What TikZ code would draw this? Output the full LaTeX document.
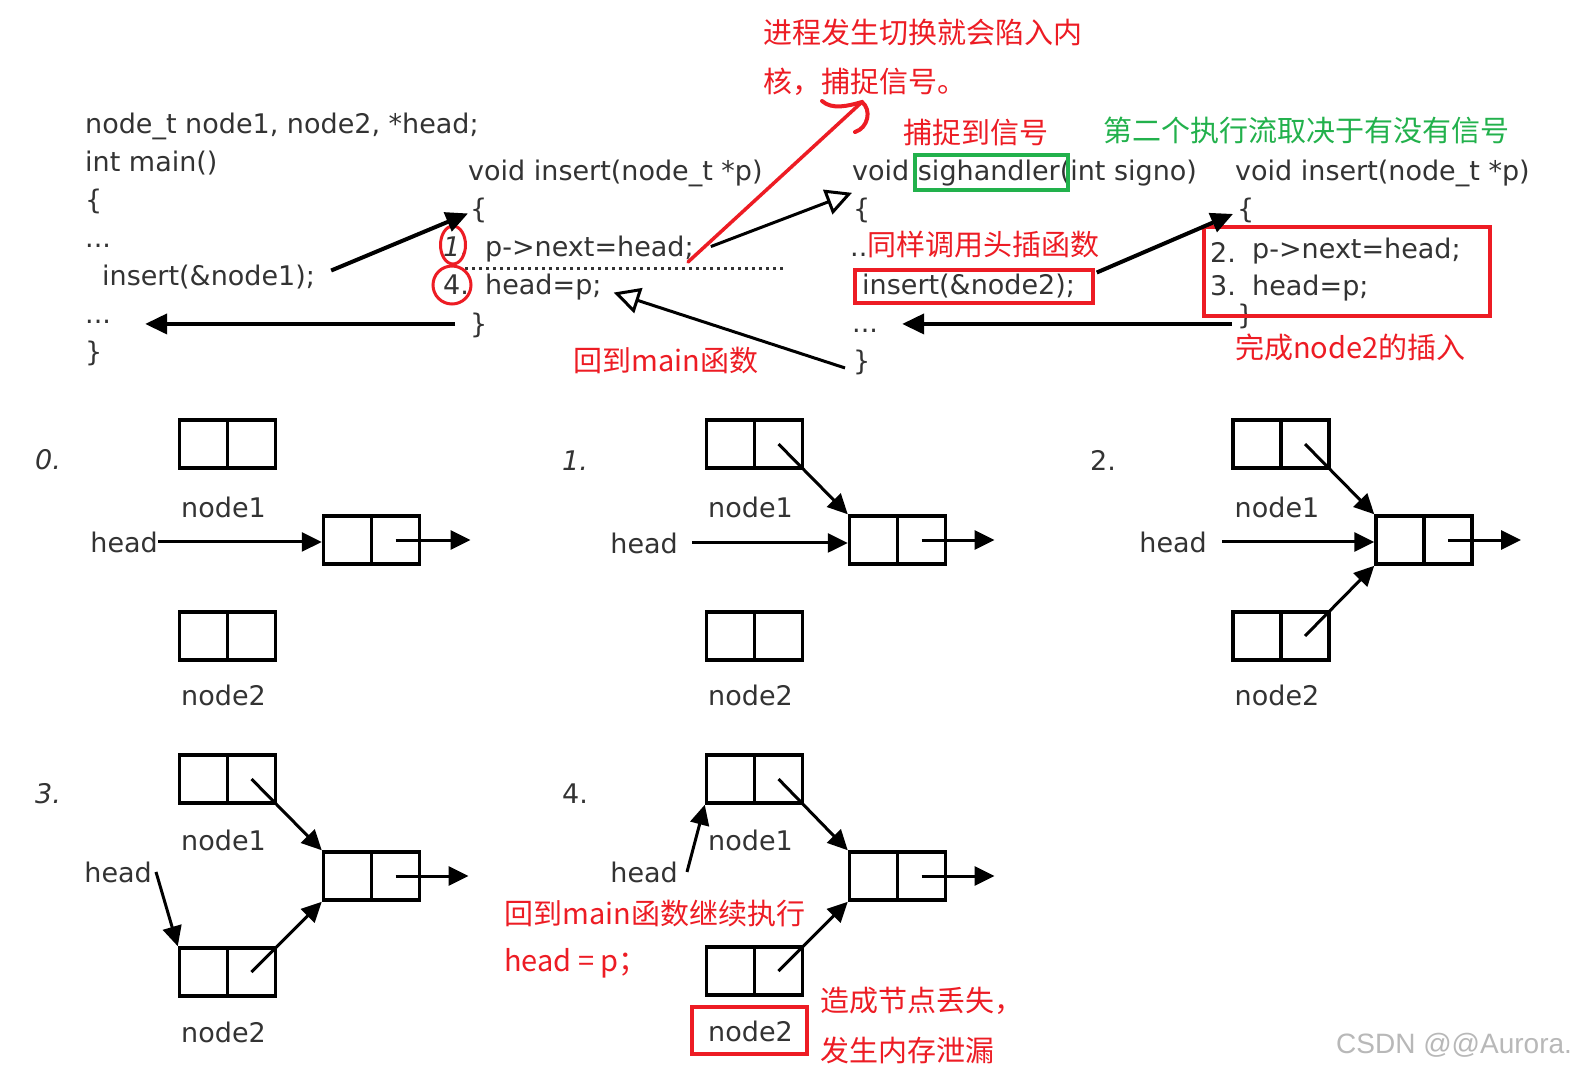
\documentclass[tikz,border=0pt]{standalone}
\usepackage{fontspec}
\setmainfont{DejaVu Sans}
\newfontfamily\cjk{Noto Sans CJK SC}
\newfontfamily\wmfont{Liberation Sans}
\usetikzlibrary{arrows.meta,shapes.geometric,calc}
\definecolor{redc}{HTML}{ED1C24}
\definecolor{greenc}{HTML}{22B14C}
\definecolor{codec}{HTML}{333333}
\begin{document}
\begin{tikzpicture}[x=1pt,y=-1pt,
  code/.style={font=\fontsize{27}{32}\selectfont, text=codec, inner sep=0pt, anchor=base west},
  lbl/.style={font=\fontsize{27}{32}\selectfont, text=codec, inner sep=0pt, anchor=base},
  stepit/.style={font=\itshape\fontsize{27}{32}\selectfont, text=codec, inner sep=0pt, anchor=base west},
  stepup/.style={font=\fontsize{27}{32}\selectfont, text=codec, inner sep=0pt, anchor=base west},
  note/.style={font=\cjk\fontsize{29}{34}\selectfont, text=redc, inner sep=0pt, anchor=west},
  cell/.style={draw=black, line width=3.5pt, minimum width=48pt, minimum height=48pt, inner sep=0pt},
  big/.style={-{Triangle[length=22pt,width=20pt]}, line width=4pt, draw=black},
  hollowarr/.style={-{Triangle[open,length=26pt,width=26pt]}, line width=3pt, draw=black},
  ptr/.style={-{Triangle[length=20pt,width=19pt]}, line width=3pt, draw=black},
  redbox/.style={draw=redc, line width=3.5pt, inner sep=0pt},
]
\fill[white] (0,0) rectangle (1581,1080);
\useasboundingbox (0,0) rectangle (1581,1080);

% ---------- main() ----------
\node[code] (m1) at (85,133) {node\_t node1, node2, *head;};
\node[code] (m2) at (85,171) {int main()};
\node[code] (m3) at (85,209) {\{};
\node[code] (m4) at (85,247) {...};
\node[code] (m5) at (102,285) {insert(\&node1);};
\node[code] (m6) at (85,323) {...};
\node[code] (m7) at (85,361) {\}};

% ---------- insert (first) ----------
\node[code] (i1) at (468,180) {void insert(node\_t *p)};
\node[code] (i2) at (470,218) {\{};
\node[code,font=\itshape\fontsize{27}{32}\selectfont] (i3n) at (443,256) {1.};
\node[code] (i3) at (485,256) {p->next=head;};
\node[code] (i4n) at (443,294) {4.};
\node[code] (i4) at (485,294) {head=p;};
\node[code] (i5) at (470,333) {\}};

% ---------- sighandler ----------
\node[code] (s1) at (852,180) {void sighandler(int signo)};
\node[code] (s2) at (853,218) {\{};
\node[code] (s3) at (850,256) {..};
\node[code] (s4) at (862,294) {insert(\&node2);};
\node[code] (s5) at (852,332) {...};
\node[code] (s6) at (853,370) {\}};

% ---------- insert (second) ----------
\node[code] (r1) at (1235,180) {void insert(node\_t *p)};
\node[code] (r2) at (1237,218) {\{};
\node[code] (r3n) at (1210,262) {2.};
\node[code] (r3) at (1252,258) {p->next=head;};
\node[code] (r4n) at (1210,295) {3.};
\node[code] (r4) at (1252,295) {head=p;};
\node[code] (r5) at (1237,324) {\}};

% dotted separator
\coordinate (dl) at (465,268);
\coordinate (dr) at (783,268);
\draw[codec, line width=3pt, dash pattern=on 3pt off 4pt] (dl) -- (dr);

% ---------- annotations ----------
\node[note] (n1) at (763,32) {进程发生切换就会陷入内};
\node[note] (n2) at (763,82) {核，捕捉信号。};
\node[note] (n3) at (903,133) {捕捉到信号};
\node[note, text=greenc] (n4) at (1103,130) {第二个执行流取决于有没有信号};
\node[note] (n5) at (867,245) {同样调用头插函数};
\node[note] (n6) at (573,360) {回到main函数};
\node[note] (n7) at (1235,347) {完成node2的插入};
\node[note] (n8) at (504,913) {回到main函数继续执行};
\node[note] (n9) at (504,963) {head = p；};
\node[note] (n10) at (820,1001) {造成节点丢失，};
\node[note] (n11) at (820,1050) {发生内存泄漏};
\node[font=\wmfont\fontsize{28}{32}\selectfont, text=black!28, anchor=west, inner sep=0pt] (wm) at (1336,1045) {CSDN @@Aurora.};

\node[draw=redc, line width=3pt, ellipse, minimum width=25pt, minimum height=38pt, inner sep=0pt] (c1) at (453,245) {};
\node[draw=redc, line width=3pt, circle, minimum size=38pt, inner sep=0pt] (c4) at (452,285) {};
\node[draw=greenc, line width=3.5pt, minimum width=153pt, minimum height=35pt, inner sep=0pt] (gb) at (991.5,172.5) {};
\node[redbox, minimum width=238pt, minimum height=33pt] (rbB) at (974,286.5) {};
\node[redbox, minimum width=286pt, minimum height=89pt] (rbC) at (1347,271.5) {};
\node[redbox, minimum width=115pt, minimum height=47pt] (rbD) at (749.5,1030.5) {};

% red hand-drawn arrow
\coordinate (ra) at (688,262);
\coordinate (rt) at (862,102);
\coordinate (rhl) at (822,101);
\coordinate (rhb) at (855,132);
\draw[redc, line width=3.5pt, line cap=round] (ra) -- (rt);
\draw[redc, line width=4pt, line cap=round] (rhl) .. controls (832,110) and (848,106) .. (rt) .. controls (872,110) and (868,128) .. (rhb);

% ---------- control-flow arrows ----------
\draw[big] ([xshift=16pt,yshift=6pt]m5.east) -- ([xshift=-2pt,yshift=-3.5pt]i2.west);
\coordinate (m6t) at ([xshift=34pt]m6.east);
\coordinate (i5s) at ([xshift=-15pt,yshift=1pt]i5.west);
\draw[big] (i5s) -- (m6t |- i5s);
\draw[hollowarr] ([xshift=17pt,yshift=2pt]i3.east) -- ([yshift=-7pt]s1.south west);
\draw[hollowarr] ([xshift=-8pt,yshift=-6pt]s6.west) -- ([xshift=12pt,yshift=-6pt]i4.east);
\draw[big] ([xshift=2pt,yshift=14pt]rbB.east) -- ([xshift=-4pt,yshift=-4pt]r2.west);
\coordinate (s5t) at ([xshift=24pt]s5.east);
\coordinate (r5s) at ([xshift=-5pt,yshift=-8pt]r5.west);
\draw[big] (r5s) -- (s5t |- r5s);

% ---------- panel 0 ----------
\node[stepit] (k0) at (35,469) {0.};
\node[cell] (a0L) at (203.5,444) {}; \node[cell] (a0R) at (251.5,444) {};
\node[cell] (b0L) at (203.5,636) {}; \node[cell] (b0R) at (251.5,636) {};
\node[cell] (t0L) at (347.5,540) {}; \node[cell] (t0R) at (395.5,540) {};
\node[lbl] (la0) at (223.5,517) {node1};
\node[lbl] (lb0) at (223.5,705) {node2};
\node[lbl, anchor=base east] (h0) at (158,552) {head};
\coordinate (e0) at ($(t0R.center)+(75,0)$);
\draw[ptr] (h0.east) -- (h0.east -| t0L.west);
\draw[ptr] (t0R.center) -- (e0);

% ---------- panel 1 ----------
\node[stepit] (k1) at (562,470) {1.};
\node[cell] (a1L) at (730.5,444) {}; \node[cell] (a1R) at (778.5,444) {};
\node[cell] (b1L) at (730.5,636) {}; \node[cell] (b1R) at (778.5,636) {};
\node[cell] (t1L) at (873.5,540) {}; \node[cell] (t1R) at (921.5,540) {};
\node[lbl] (la1) at (750.5,517) {node1};
\node[lbl] (lb1) at (750.5,705) {node2};
\node[lbl, anchor=base east] (h1) at (678,553) {head};
\coordinate (e1) at ($(t1R.center)+(73,0)$);
\draw[ptr] (a1R.center) -- (t1L.north west);
\draw[ptr] ([xshift=14pt]h1.east) -- (h1.east -| t1L.west);
\draw[ptr] (t1R.center) -- (e1);

% ---------- panel 2 ----------
\node[stepup] (k2) at (1090,470) {2.};
\node[cell] (a2L) at (1257,444) {}; \node[cell] (a2R) at (1305,444) {};
\node[cell] (b2L) at (1257,636) {}; \node[cell] (b2R) at (1305,636) {};
\node[cell] (t2L) at (1400,540) {}; \node[cell] (t2R) at (1448,540) {};
\node[lbl] (la2) at (1277,517) {node1};
\node[lbl] (lb2) at (1277,705) {node2};
\node[lbl, anchor=base east] (h2) at (1207,552) {head};
\coordinate (e2) at ($(t2R.center)+(73,0)$);
\draw[ptr] (a2R.center) -- (t2L.north west);
\draw[ptr] ([xshift=15pt]h2.east) -- (h2.east -| t2L.west);
\draw[ptr] (b2R.center) -- (t2L.south west);
\draw[ptr] (t2R.center) -- (e2);

% ---------- panel 3 ----------
\node[stepit] (k3) at (35,803) {3.};
\node[cell] (a3L) at (203.5,779) {}; \node[cell] (a3R) at (251.5,779) {};
\node[cell] (b3L) at (203.5,972) {}; \node[cell] (b3R) at (251.5,972) {};
\node[cell] (t3L) at (347.5,876) {}; \node[cell] (t3R) at (395.5,876) {};
\node[lbl] (la3) at (223.5,850) {node1};
\node[lbl] (lb3) at (223.5,1042) {node2};
\node[lbl, anchor=base east] (h3) at (152,882) {head};
\coordinate (e3) at ($(t3R.center)+(73,0)$);
\draw[ptr] (a3R.center) -- (t3L.north west);
\draw[ptr] ([xshift=4pt]h3.east) -- (b3L.north west);
\draw[ptr] (b3R.center) -- (t3L.south west);
\draw[ptr] (t3R.center) -- (e3);

% ---------- panel 4 ----------
\node[stepup] (k4) at (562,803) {4.};
\node[cell] (a4L) at (730.5,779) {}; \node[cell] (a4R) at (778.5,779) {};
\node[cell] (b4L) at (730.5,971) {}; \node[cell] (b4R) at (778.5,971) {};
\node[cell] (t4L) at (873.5,876) {}; \node[cell] (t4R) at (921.5,876) {};
\node[lbl] (la4) at (750.5,850) {node1};
\node[lbl] (lb4) at (750.5,1041) {node2};
\node[lbl, anchor=base east] (h4) at (678,882) {head};
\coordinate (e4) at ($(t4R.center)+(73,0)$);
\draw[ptr] (a4R.center) -- (t4L.north west);
\draw[ptr] ([xshift=9pt]h4.east) -- (a4L.south west);
\draw[ptr] (b4R.center) -- (t4L.south west);
\draw[ptr] (t4R.center) -- (e4);
\end{tikzpicture}
\end{document}
